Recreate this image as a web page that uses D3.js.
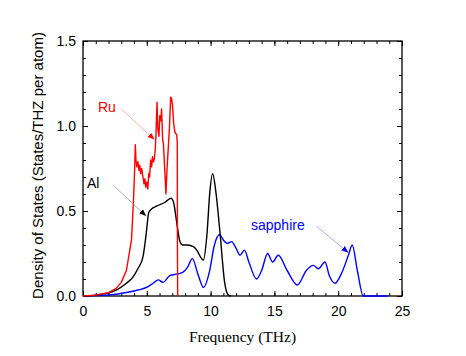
<!DOCTYPE html>
<html>
<head>
<meta charset="utf-8">
<script src="https://cdn.jsdelivr.net/npm/d3@7"></script>
<style>
  body { margin: 0; background: #fff; }
  svg { display: block; }
</style>
</head>
<body>
<svg id="chart" width="466" height="356"></svg>
<script>
// frequency (THz) / density of states
const alFreq = [0, 1, 2, 2.6, 3.4, 3.9, 4.3, 4.7, 4.96, 5.15, 5.35, 5.8, 6.4, 6.9, 7.1, 7.35, 7.6, 7.8, 8.2, 8.65, 9.0, 9.2, 9.43, 9.7, 9.95, 10.16, 10.4, 10.74, 11.1, 11.4, 11.6];
const alDos  = [0, 0.005, 0.018, 0.035, 0.075, 0.11, 0.16, 0.23, 0.37, 0.49, 0.51, 0.53, 0.55, 0.575, 0.55, 0.43, 0.32, 0.30, 0.30, 0.29, 0.26, 0.23, 0.21, 0.35, 0.62, 0.72, 0.62, 0.37, 0.08, 0.005, 0];

const ruFreq = [0, 1, 2, 2.6, 3.0, 3.4, 3.8, 3.95, 4.05, 4.1, 4.15, 4.22, 4.3, 4.38, 4.45, 4.52, 4.6, 4.7, 4.78, 4.85, 4.92, 5.0, 5.08, 5.15, 5.22, 5.3, 5.38, 5.45, 5.52, 5.6, 5.66, 5.72, 5.8, 5.87, 5.95, 6.02, 6.09, 6.16, 6.24, 6.3, 6.38, 6.45, 6.5, 6.58, 6.69, 6.78, 6.87, 6.95, 7.03, 7.1, 7.21, 7.34, 7.39, 7.4, 7.42];
const ruDos  = [0, 0.005, 0.02, 0.045, 0.08, 0.15, 0.33, 0.55, 0.75, 0.89, 0.8, 0.76, 0.79, 0.74, 0.77, 0.72, 0.75, 0.7, 0.66, 0.69, 0.64, 0.67, 0.63, 0.72, 0.7, 0.8, 0.76, 0.82, 0.79, 0.81, 0.86, 0.95, 1.14, 0.98, 0.94, 1.06, 1.03, 1.1, 0.92, 0.9, 0.78, 0.68, 0.6, 0.74, 0.88, 1.0, 1.17, 1.16, 1.11, 1.02, 0.96, 0.95, 0.9, 0.3, 0];

const saFreq = [0, 1, 2, 2.6, 3.5, 4.3, 4.96, 5.5, 5.9, 6.27, 6.8, 7.44, 7.84, 8.2, 8.57, 9.0, 9.45, 9.9, 10.3, 10.68, 11.1, 11.35, 11.65, 12.0, 12.3, 12.65, 13.0, 13.6, 14.0, 14.47, 14.86, 15.3, 16.0, 16.8, 17.5, 18.05, 18.44, 18.97, 19.3, 19.75, 20.3, 20.8, 21.1, 21.5, 21.97, 23.9];
const saDos  = [0, 0.002, 0.006, 0.01, 0.022, 0.035, 0.05, 0.075, 0.095, 0.08, 0.12, 0.13, 0.14, 0.17, 0.22, 0.13, 0.05, 0.14, 0.3, 0.36, 0.32, 0.31, 0.32, 0.28, 0.24, 0.27, 0.2, 0.10, 0.15, 0.25, 0.20, 0.24, 0.15, 0.065, 0.15, 0.18, 0.16, 0.20, 0.12, 0.075, 0.14, 0.24, 0.30, 0.15, 0.0, 0];

const xTicks = [0, 5, 10, 15, 20, 25];
const yTicks = [0, 0.5, 1.0, 1.5];

const svg = d3.select("#chart");
const margin = {left: 83, top: 41, right: 64, bottom: 60};
const width = 466, height = 356;

const x = d3.scaleLinear().domain([0, 25]).range([margin.left, width - margin.right]);
const y = d3.scaleLinear().domain([0, 1.5]).range([height - margin.bottom, margin.top]);

const defs = svg.append("defs");
function arrowHead(id, color) {
  defs.append("marker")
    .attr("id", id)
    .attr("viewBox", "0 0 10 10")
    .attr("refX", 10).attr("refY", 5)
    .attr("markerWidth", 7).attr("markerHeight", 7)
    .attr("markerUnits", "userSpaceOnUse")
    .attr("orient", "auto")
    .append("path")
    .attr("d", "M0,1 L10,5 L0,9 Z")
    .attr("fill", color);
}
arrowHead("hRed", "#ff0000");
arrowHead("hBlack", "#000");
arrowHead("hBlue", "#0000ff");

const x0 = x.range()[0], x1 = x.range()[1], y0 = y.range()[0], y1 = y.range()[1];

svg.append("clipPath").attr("id", "clip")
  .append("rect")
  .attr("x", x0).attr("y", y1)
  .attr("width", x1 - x0)
  .attr("height", y0 - y1 + 1);

// axes: ticks inward on all four sides
const xMinor = d3.range(0, 26, 1);
const yMinor = d3.range(0, 1.51, 0.1);

function tickAxis(axisFn, scale, pos, size, values) {
  const g = svg.append("g").attr("transform", pos)
    .call(axisFn(scale).tickValues(values).tickSize(size).tickSizeOuter(0).tickFormat(""));
  g.select(".domain").remove();
  g.selectAll(".tick line").attr("stroke", "#000").attr("stroke-width", 1);
  return g;
}

tickAxis(d3.axisTop, x, `translate(0,${y0})`, 3, xMinor);
tickAxis(d3.axisBottom, x, `translate(0,${y1})`, 3, xMinor);
tickAxis(d3.axisRight, y, `translate(${x0},0)`, 3, yMinor);
tickAxis(d3.axisLeft, y, `translate(${x1},0)`, 3, yMinor);
tickAxis(d3.axisBottom, x, `translate(0,${y1})`, 5, xTicks);
tickAxis(d3.axisLeft, y, `translate(${x1},0)`, 5, yTicks);

const xAxisG = svg.append("g").attr("transform", `translate(0,${y0})`)
  .call(d3.axisTop(x).tickValues(xTicks).tickSize(5).tickFormat(d3.format("d")));
xAxisG.select(".domain").remove();
xAxisG.selectAll(".tick line").attr("stroke", "#000");
xAxisG.selectAll(".tick text")
  .attr("y", 20).attr("dy", 0)
  .attr("font-family", "Liberation Sans, Arial, sans-serif")
  .attr("font-size", 14).attr("fill", "#000");

const yAxisG = svg.append("g").attr("transform", `translate(${x0},0)`)
  .call(d3.axisRight(y).tickValues(yTicks).tickSize(5).tickFormat(d3.format(".1f")));
yAxisG.select(".domain").remove();
yAxisG.selectAll(".tick line").attr("stroke", "#000");
yAxisG.selectAll(".tick text")
  .attr("x", -7).attr("text-anchor", "end")
  .attr("font-family", "Liberation Sans, Arial, sans-serif")
  .attr("font-size", 14).attr("fill", "#000");

svg.append("rect")
  .attr("x", x0).attr("y", y1)
  .attr("width", x1 - x0).attr("height", y0 - y1)
  .attr("fill", "none").attr("stroke", "#000").attr("stroke-width", 1.3);

// curves drawn over the frame, as in the original
const line = d3.line().x(d => x(d[0])).y(d => y(d[1]));
const smooth = d3.line().x(d => x(d[0])).y(d => y(d[1])).curve(d3.curveMonotoneX);

const plot = svg.append("g").attr("clip-path", "url(#clip)");
plot.append("path")
  .datum(d3.zip(saFreq, saDos))
  .attr("fill", "none").attr("stroke", "#0000ff").attr("stroke-width", 1.4)
  .attr("d", smooth);
plot.append("path")
  .datum(d3.zip(alFreq, alDos))
  .attr("fill", "none").attr("stroke", "#000").attr("stroke-width", 1.4)
  .attr("d", smooth);
plot.append("path")
  .datum(d3.zip(ruFreq, ruDos))
  .attr("fill", "none").attr("stroke", "#ff0000").attr("stroke-width", 1.4)
  .attr("stroke-linejoin", "round")
  .attr("d", line);

// titles
svg.append("text")
  .attr("x", (x0 + x1) / 2).attr("y", 342)
  .attr("text-anchor", "middle")
  .attr("font-family", "Liberation Serif, Times New Roman, serif")
  .attr("font-size", 15.5)
  .text("Frequency (THz)");

svg.append("text")
  .attr("transform", `translate(43,${(y0 + y1) / 2 - 3}) rotate(-90)`)
  .attr("text-anchor", "middle")
  .attr("font-family", "Liberation Sans, Arial, sans-serif")
  .attr("font-size", 15)
  .text("Density of States (States/THZ per atom)");

// labels with arrows
function label(text, color, lx, ly, from, to, lineColor, head) {
  svg.append("text")
    .attr("x", lx).attr("y", ly)
    .attr("font-family", "Liberation Sans, Arial, sans-serif")
    .attr("font-size", 14).attr("fill", color)
    .text(text);
  svg.append("line")
    .attr("x1", x(from[0])).attr("y1", y(from[1]))
    .attr("x2", x(to[0])).attr("y2", y(to[1]))
    .attr("stroke", lineColor).attr("stroke-width", 0.8)
    .attr("marker-end", `url(#${head})`);
}
label("Ru", "#ff0000", 98, 112, [3.0, 1.1], [5.6, 0.92], "#ff9a9a", "hRed");
label("Al", "#000", 87, 188, [2.4, 0.65], [4.95, 0.47], "#999", "hBlack");
label("sapphire", "#0000ff", 251, 230, [18.3, 0.41], [20.8, 0.255], "#9a9aff", "hBlue");
</script>
</body>
</html>
